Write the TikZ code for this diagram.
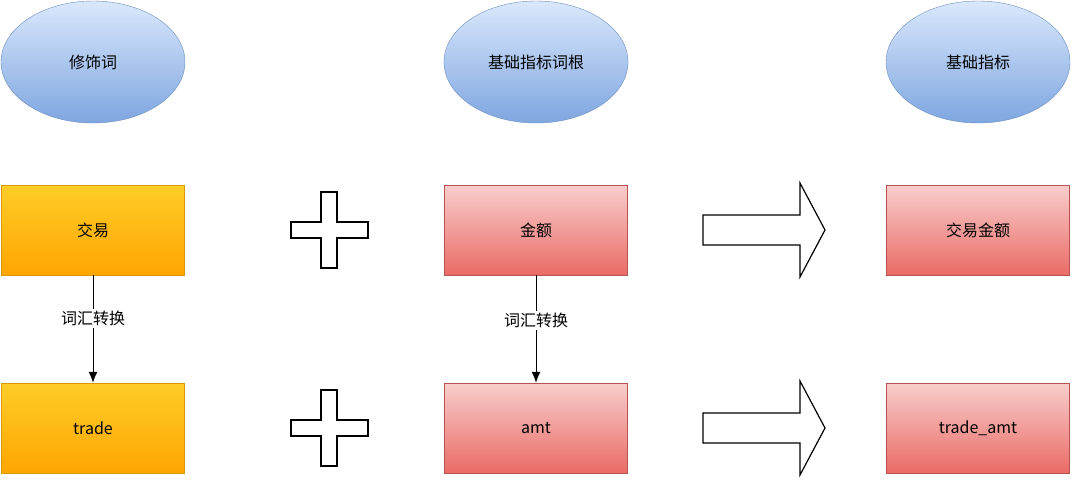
\documentclass[tikz,border=0pt]{standalone}
\usepackage{fontspec}
\setmainfont{Noto Sans CJK SC}
\usetikzlibrary{shapes.geometric,positioning,arrows.meta}
\definecolor{blueTop}{HTML}{DAE8FC}
\definecolor{blueBot}{HTML}{7EA6E0}
\definecolor{blueLine}{HTML}{6C8EBF}
\definecolor{orgTop}{HTML}{FFCD28}
\definecolor{orgBot}{HTML}{FFA500}
\definecolor{orgLine}{HTML}{D79B00}
\definecolor{redTop}{HTML}{F8CECC}
\definecolor{redBot}{HTML}{EA6B66}
\definecolor{redLine}{HTML}{B85450}
\tikzset{
  word/.style={ellipse, minimum width=184pt, minimum height=122pt, draw=blueLine,
    top color=blueTop, bottom color=blueBot, font=\fontsize{16}{18}\selectfont},
  term/.style={rectangle, minimum width=183pt, minimum height=90pt,
    font=\fontsize{16}{18}\selectfont},
  orgbox/.style={term, draw=orgLine, top color=orgTop, bottom color=orgBot},
  redbox/.style={term, draw=redLine, top color=redTop, bottom color=redBot},
  conv/.style={-{Latex[length=11pt,width=9pt]}, line width=1pt},
  convlabel/.style={fill=white, font=\fontsize{16}{18}\selectfont, inner sep=2pt},
  sym/.style={draw=black, line width=1.2pt, fill=white}
}
\begin{document}
\begin{tikzpicture}[x=1pt, y=-1pt]
    \useasboundingbox (0,0) rectangle (1080,482);
    % ellipses
    \node[word] (mod) at (93,62) {修饰词};
    \node[word] (root) at (536,62) {基础指标词根};
    \node[word] (base) at (978,62) {基础指标};
    % boxes
    \node[orgbox] (deal) at (93,230) {交易};
    \node[redbox] (sum) at (536,230) {金额};
    \node[redbox] (dealsum) at (978,230) {交易金额};
    \node[orgbox] (trade) at (93,428) {trade};
    \node[redbox] (amt) at (536,428) {amt};
    \node[redbox] (tradeamt) at (978,428) {trade\_amt};
    % conversions
    \draw[conv] (deal) -- node[convlabel, pos=0.4] {词汇转换} (trade);
    \draw[conv] (sum) -- node[convlabel, pos=0.42] {词汇转换} (amt);
    % plus and arrows
    \foreach \y in {230,428} {
      \filldraw[sym, yshift=-\y pt] (291,-8) -- (321,-8) -- (321,-38) -- (337,-38)
        -- (337,-8) -- (368,-8) -- (368,8) -- (337,8) -- (337,38) -- (321,38)
        -- (321,8) -- (291,8) -- cycle;
      \filldraw[sym, yshift=-\y pt] (703,-15) -- (800,-15) -- (800,-47) -- (825,0)
        -- (800,47) -- (800,15) -- (703,15) -- cycle;
    }
\end{tikzpicture}
\end{document}
